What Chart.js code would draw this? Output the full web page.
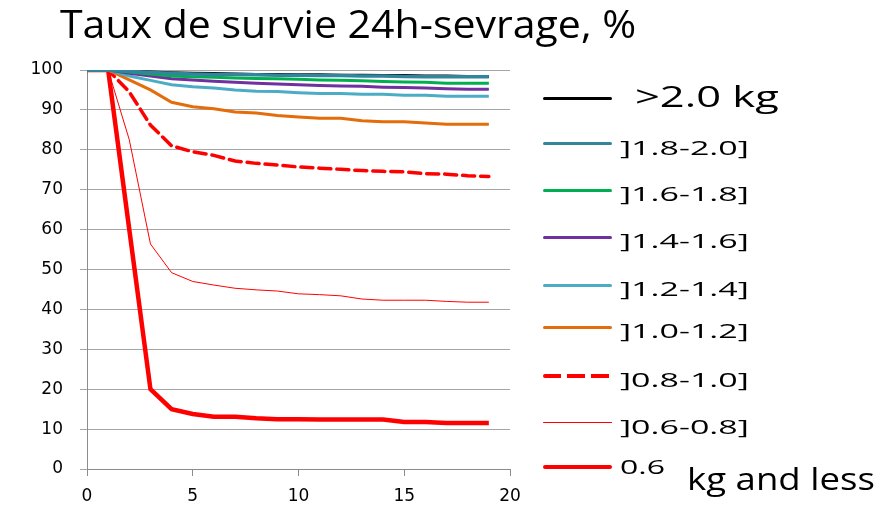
<!DOCTYPE html>
<html>
<head>
<meta charset="utf-8">
<script src="https://cdn.jsdelivr.net/npm/chart.js@4"></script>
<style>
  body { margin: 0; background: #fff; }
  #wrap { position: relative; width: 880px; height: 513px; font-family: "Open Sans", sans-serif; }
  #myChart { position: absolute; left: 0; top: 0; }
  #title { position: absolute; left: 60px; top: -5px; font-size: 38px; line-height: 56px; color: #000; white-space: nowrap; transform-origin: 0 50%; transform: scaleX(1.08); }
  .item { position: absolute; left: 543px; height: 0; white-space: nowrap; }
  .item .ln { position: absolute; left: 0; width: 69px; top: 0; border-radius: 2px; }
  .item .tx { position: absolute; left: 77px; top: -16px; font-size: 20px; line-height: 40px; color: #000; transform-origin: 0 50%; transform: scaleX(1.7); }
</style>
</head>
<body>
<div id="wrap">
  <canvas id="myChart" width="880" height="513"></canvas>
  <div id="title">Taux de survie 24h-sevrage, %</div>
  <div id="legend"></div>
</div>
<script>
var days = [0, 1, 2, 3, 4, 5, 6, 7, 8, 9, 10, 11, 12, 13, 14, 15, 16, 17, 18, 19];

var over20 = [100, 100, 99.7, 99.5, 99.3, 99.2, 99.1, 99.0, 98.9, 98.9, 98.8, 98.8, 98.7, 98.7, 98.6, 98.6, 98.5, 98.5, 98.4, 98.4];
var w18_20 = [100, 100, 99.7, 99.4, 99.2, 99.0, 98.9, 98.9, 98.8, 98.7, 98.7, 98.6, 98.6, 98.5, 98.5, 98.4, 98.3, 98.3, 98.3, 98.3];
var w16_18 = [100, 100, 99.5, 99.0, 98.5, 98.3, 98.2, 98.0, 97.9, 97.8, 97.7, 97.5, 97.4, 97.3, 97.1, 97.0, 96.9, 96.7, 96.7, 96.7];
var w14_16 = [100, 100, 99.2, 98.5, 97.8, 97.5, 97.2, 96.9, 96.7, 96.5, 96.3, 96.1, 96.0, 95.9, 95.7, 95.6, 95.5, 95.3, 95.2, 95.2];
var w12_14 = [100, 100, 98.5, 97.4, 96.3, 95.8, 95.5, 95.0, 94.7, 94.6, 94.3, 94.1, 94.1, 93.9, 93.9, 93.7, 93.7, 93.4, 93.4, 93.4];
var w10_12 = [100, 100, 97.5, 95.0, 91.9, 90.8, 90.3, 89.5, 89.2, 88.6, 88.2, 87.9, 87.9, 87.3, 87.0, 87.0, 86.7, 86.4, 86.4, 86.4];
var w08_10 = [100, 100, 94.5, 86.2, 81.0, 79.5, 78.6, 77.2, 76.6, 76.2, 75.7, 75.4, 75.1, 74.8, 74.6, 74.5, 74.0, 73.9, 73.5, 73.3];
var w06_08 = [100, 100, 82.5, 56.4, 49.2, 47.0, 46.1, 45.3, 44.9, 44.6, 43.9, 43.7, 43.4, 42.6, 42.3, 42.3, 42.3, 42.0, 41.8, 41.8];
var under06 = [100, 100, 60, 20.0, 15.0, 13.8, 13.1, 13.1, 12.7, 12.5, 12.5, 12.4, 12.4, 12.4, 12.4, 11.8, 11.8, 11.5, 11.5, 11.5];

var xTicks = [0, 5, 10, 15, 20];
var yTicks = [0, 10, 20, 30, 40, 50, 60, 70, 80, 90, 100];

function pts(arr) {
  return arr.map(function (v, i) { return { x: days[i], y: v }; });
}

var series = [
  { label: ">2.0 kg", values: over20, color: "#000000", width: 3, order: 1 },
  { label: "]1.8-2.0]", values: w18_20, color: "#31859C", width: 3.5, order: 0 },
  { label: "]1.6-1.8]", values: w16_18, color: "#00B050", width: 3, order: 0 },
  { label: "]1.4-1.6]", values: w14_16, color: "#7030A0", width: 3, order: 0 },
  { label: "]1.2-1.4]", values: w12_14, color: "#4BACC6", width: 3, order: 0 },
  { label: "]1.0-1.2]", values: w10_12, color: "#E46C0A", width: 3, order: 0 },
  { label: "]0.8-1.0]", values: w08_10, color: "#FF0000", width: 3.5, dash: [12, 6], order: 0 },
  { label: "]0.6-0.8]", values: w06_08, color: "#FF0000", width: 1, order: 0 },
  { label: "0.6", values: under06, color: "#FF0000", width: 4.5, order: 0 }
];

var data = {
  datasets: series.map(function (s) {
    return {
      label: s.label,
      data: pts(s.values),
      borderColor: s.color,
      backgroundColor: s.color,
      borderWidth: s.width,
      borderDash: s.dash || [],
      borderCapStyle: s.dash ? "round" : "butt",
      pointRadius: 0,
      tension: 0,
      fill: false,
      order: s.order
    };
  })
};

var tickFont = { family: "'DejaVu Sans', sans-serif", size: 17 };

var config = {
  type: "line",
  data: data,
  options: {
    responsive: false,
    animation: false,
    layout: { padding: { left: 0, top: 70, right: 370, bottom: 0 } },
    plugins: { legend: { display: false }, tooltip: { enabled: false }, title: { display: false } },
    scales: {
      x: {
        type: "linear",
        min: 0,
        max: 20,
        afterBuildTicks: function (scale) { scale.ticks = xTicks.map(function (v) { return { value: v }; }); },
        afterFit: function (scale) { scale.height = 44; },
        ticks: { color: "#000", font: tickFont, padding: 10, maxRotation: 0 },
        grid: { drawOnChartArea: false, color: "#8c8c8c", tickLength: 7 },
        border: { color: "#8c8c8c", width: 1 }
      },
      y: {
        min: 0,
        max: 100,
        afterBuildTicks: function (scale) { scale.ticks = yTicks.map(function (v) { return { value: v }; }); },
        afterFit: function (scale) { scale.width = 87; },
        ticks: { color: "#000", font: tickFont, padding: 17 },
        grid: { color: "#a6a6a6", tickLength: 7 },
        border: { color: "#8c8c8c", width: 1 }
      }
    }
  }
};

var myChart = new Chart(document.getElementById("myChart"), config);

// hand made legend down the right side
var legendY = [98, 144, 190, 237, 285, 327, 376, 423, 467];
var legend = document.getElementById("legend");
series.forEach(function (s, i) {
  var item = document.createElement("div");
  item.className = "item";
  item.style.top = legendY[i] + "px";
  var ln = document.createElement("div");
  ln.className = "ln";
  var w = Math.max(s.width, 1.5);
  if (s.dash) {
    ln.style.height = w + "px";
    ln.style.background = "repeating-linear-gradient(90deg, " + s.color + " 0 18px, transparent 18px 24px)";
  } else {
    ln.style.borderTop = w + "px solid " + s.color;
  }
  ln.style.marginTop = (-w / 2) + "px";
  item.appendChild(ln);
  var tx = document.createElement("span");
  tx.className = "tx";
  tx.textContent = s.label;
  if (i == 0) {
    tx.style.fontSize = "30px";
    tx.style.left = "92px";
    tx.style.top = "-22px";
    tx.style.transform = "scaleX(1.45)";
  }
  if (i == series.length - 1) {
    tx.style.transform = "none";
    tx.style.top = "0px";
    tx.innerHTML = '<span style="position:absolute; left:0; top:-20px; transform:scaleX(1.6); transform-origin:0 50%">0.6</span>' +
      '<span style="position:absolute; left:67px; top:-9px; font-size:31px; transform:scaleX(1.18); transform-origin:0 50%">kg and less</span>';
  }
  item.appendChild(tx);
  legend.appendChild(item);
});
</script>
</body>
</html>
